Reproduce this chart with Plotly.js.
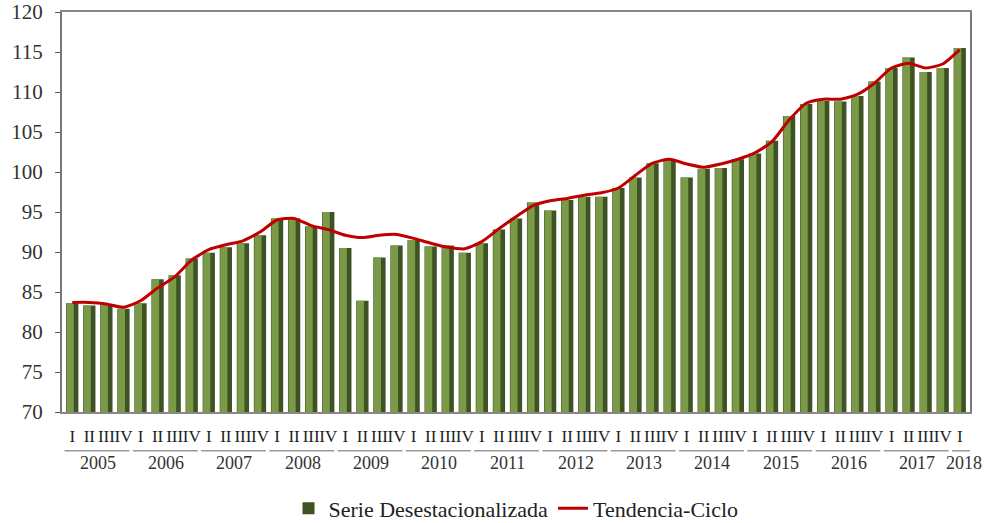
<!DOCTYPE html>
<html>
<head>
<meta charset="utf-8">
<script src="https://cdn.plot.ly/plotly-3.0.1.min.js"></script>
<style>html,body{margin:0;padding:0;background:#fff;}#chart{width:987px;height:523px;}</style>
</head>
<body>
<div id="chart"></div>
<script>
const years = [2005,2006,2007,2008,2009,2010,2011,2012,2013,2014,2015,2016,2017,2018];
const quarterNames = ["I","II","III","IV"];
const serie = [
  83.6, 83.3, 83.4, 82.9,
  83.6, 86.6, 87.1, 89.2,
  89.9, 90.6, 91.1, 92.1,
  94.2, 94.2, 93.2, 95.0,
  90.5, 83.9, 89.3, 90.8,
  91.5, 90.7, 90.8, 89.9,
  91.1, 92.8, 94.2, 96.2,
  95.2, 96.5, 96.9, 96.9,
  98.0, 99.3, 101.1, 101.6,
  99.3, 100.4, 100.5, 101.6,
  102.3, 103.9, 107.0, 108.5,
  108.9, 108.8, 109.5, 111.3,
  113.0, 114.3, 112.5, 113.0,
  115.5
];
const tendencia = [
  83.7, 83.7, 83.5, 83.1,
  83.9, 85.5, 86.9, 89.0,
  90.3, 90.9, 91.4, 92.5,
  94.0, 94.2, 93.3, 92.8,
  92.1, 91.8, 92.1, 92.2,
  91.7, 91.1, 90.6, 90.4,
  91.3, 92.9, 94.4, 95.8,
  96.4, 96.7, 97.1, 97.4,
  98.0, 99.6, 101.1, 101.6,
  101.0, 100.6, 101.0, 101.6,
  102.4, 103.8, 106.5, 108.6,
  109.1, 109.1, 109.7, 111.1,
  113.0, 113.6, 113.0, 113.5,
  115.3
];

const idx = serie.map((_, i) => i);
const tickText = idx.map(i => quarterNames[i % 4]);

const serif = "'Liberation Serif', 'Times New Roman', serif";

const traces = [
  {
    type: "bar", x: idx, y: serie, name: "Serie Desestacionalizada",
    width: 0.72, offset: -0.36,
    marker: { color: "#3e5324", line: { width: 0 } },
    hoverinfo: "y"
  },
  {
    type: "bar", x: idx, y: serie, showlegend: false,
    width: 0.42, offset: -0.33,
    marker: { color: "#7b9a47", line: { width: 0 } },
    hoverinfo: "skip"
  },
  {
    type: "scatter", mode: "lines", x: idx, y: tendencia, name: "Tendencia-Ciclo",
    line: { color: "#c00000", width: 3, shape: "spline", smoothing: 0.6 }
  }
];

const annotations = [];
const shapes = [];
years.forEach((yr, k) => {
  const start = k * 4;
  const count = Math.min(4, serie.length - start);
  const centre = start + (count - 1) / 2;
  annotations.push({
    x: count === 1 ? centre + 0.25 : centre, xref: "x",
    y: -0.128, yref: "paper", yanchor: "middle",
    text: String(yr), showarrow: false,
    font: { family: serif, size: 18, color: "#333" }
  });
  shapes.push({
    type: "line", xref: "x", yref: "paper",
    x0: start - 0.45, x1: start + count - 1 + (count === 1 ? 0.8 : 0.35),
    y0: -0.097, y1: -0.097,
    line: { color: "#999", width: 1.5 }
  });
});

const layout = {
  width: 987, height: 523,
  margin: { l: 62, r: 17, t: 12, b: 111, autoexpand: false },
  paper_bgcolor: "#fff", plot_bgcolor: "#fff",
  barmode: "overlay",
  showlegend: true,
  legend: {
    orientation: "h", x: 0.5, xanchor: "center",
    yref: "container", y: 0.028, yanchor: "middle",
    font: { family: serif, size: 22, color: "#222" }, traceorder: "normal"
  },
  xaxis: {
    range: [-0.6, serie.length - 0.4],
    tickmode: "array", tickvals: idx, ticktext: tickText, tickangle: 0,
    ticks: "outside", ticklen: 8, tickcolor: "rgba(0,0,0,0)",
    tickfont: { family: serif, size: 17, color: "#222" },
    showgrid: false, zeroline: false, automargin: false,
    showline: true, linecolor: "#888", linewidth: 2, mirror: true
  },
  yaxis: {
    range: [70, 120], dtick: 5,
    ticks: "outside", ticklen: 5, tickcolor: "#555",
    ticklabelstandoff: 8, ticklabeloverflow: "allow",
    tickfont: { family: serif, size: 21, color: "#333" },
    showgrid: false, zeroline: false, automargin: false,
    showline: true, linecolor: "#777", linewidth: 2, mirror: true
  },
  annotations: annotations,
  shapes: shapes
};

Plotly.newPlot("chart", traces, layout, { displayModeBar: false, staticPlot: true });
</script>
</body>
</html>
